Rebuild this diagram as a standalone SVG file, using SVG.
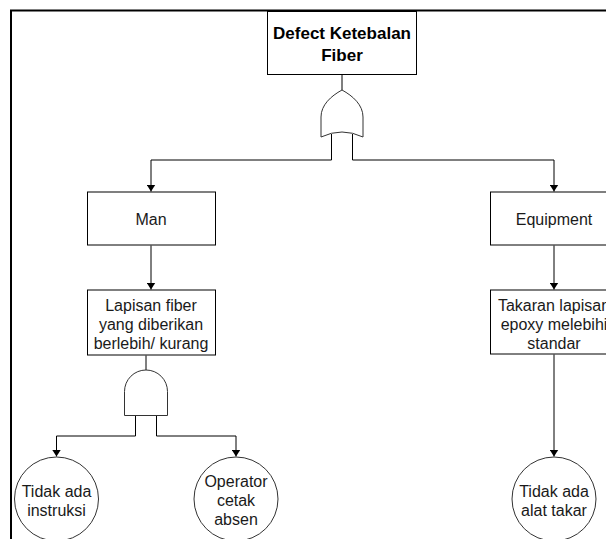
<svg xmlns="http://www.w3.org/2000/svg" width="606" height="539" viewBox="0 0 606 539">
  <style>
    .box { fill: #ffffff; stroke: #000000; stroke-width: 1; }
    .gate { fill: #ffffff; stroke: #333333; stroke-width: 1; }
    .event { fill: #ffffff; stroke: #333333; stroke-width: 1; }
    .link { fill: none; stroke: #000000; stroke-width: 1; }
    .lbl { font-family: "Liberation Sans", Arial, sans-serif; font-size: 16px; fill: #1a1a1a; text-anchor: middle; }
    .title { font-family: "Liberation Sans", Arial, sans-serif; font-size: 17px; font-weight: bold; fill: #000000; text-anchor: middle; }
  </style>
  <defs>
    <marker id="arrow" viewBox="0 0 7 9" refX="7" refY="4.5" markerWidth="7" markerHeight="9" markerUnits="userSpaceOnUse" orient="auto">
      <path d="M0,0 L7,4.5 L0,9 Z" fill="#000000"/>
    </marker>
  </defs>

  <rect width="606" height="539" fill="#ffffff"/>
  <!-- page frame -->
  <path d="M11,539 V10.5 H606" fill="none" stroke="#000000" stroke-width="2"/>

  <!-- connectors -->
  <g id="connectors">
    <path class="link" d="M342,74.5 V90"/>
    <path class="link" d="M331.5,134 V160 H151 V191.5" marker-end="url(#arrow)"/>
    <path class="link" d="M352.5,134 V160 H554 V191.5" marker-end="url(#arrow)"/>
    <path class="link" d="M151,245.5 V289.5" marker-end="url(#arrow)"/>
    <path class="link" d="M554,245.5 V289.5" marker-end="url(#arrow)"/>
    <path class="link" d="M146,355.5 V370"/>
    <path class="link" d="M135.5,415.5 V436 H56.5 V456.5" marker-end="url(#arrow)"/>
    <path class="link" d="M156.5,415.5 V436 H236 V456.5" marker-end="url(#arrow)"/>
    <path class="link" d="M554,354.5 V456.5" marker-end="url(#arrow)"/>
  </g>

  <!-- top event -->
  <g id="top-event">
    <rect class="box" x="267.5" y="11.5" width="149" height="63"/>
    <text class="title" x="342" y="39">Defect Ketebalan</text>
    <text class="title" x="342" y="61">Fiber</text>
  </g>

  <!-- OR gate -->
  <g id="or-gate">
    <path class="gate" d="M342,90 C331,96 321,105 321,117 V137 Q342,127 363,137 V117 C363,105 353,96 342,90 Z"/>
  </g>

  <g id="man">
    <rect class="box" x="87.5" y="192" width="128" height="53"/>
    <text class="lbl" x="151" y="224.5">Man</text>
  </g>

  <g id="equipment">
    <rect class="box" x="490.5" y="192" width="128" height="53"/>
    <text class="lbl" x="554" y="224.5">Equipment</text>
  </g>

  <g id="lapisan">
    <rect class="box" x="87.5" y="290" width="128" height="65"/>
    <text class="lbl" x="151" y="311">Lapisan fiber</text>
    <text class="lbl" x="151" y="330">yang diberikan</text>
    <text class="lbl" x="151" y="349">berlebih/ kurang</text>
  </g>

  <g id="takaran">
    <rect class="box" x="490.5" y="290" width="128" height="64"/>
    <text class="lbl" x="554" y="311">Takaran lapisan</text>
    <text class="lbl" x="554" y="330">epoxy melebihi</text>
    <text class="lbl" x="554" y="349">standar</text>
  </g>

  <!-- AND gate -->
  <g id="and-gate">
    <path class="gate" d="M124.5,415.5 V391.5 A21.5,21.5 0 0 1 167.5,391.5 V415.5 Z"/>
  </g>

  <g id="tidak-ada-instruksi">
    <circle class="event" cx="56.5" cy="499" r="42"/>
    <text class="lbl" x="56.5" y="497">Tidak ada</text>
    <text class="lbl" x="56.5" y="516">instruksi</text>
  </g>

  <g id="operator-cetak-absen">
    <circle class="event" cx="236" cy="499" r="42"/>
    <text class="lbl" x="236" y="487">Operator</text>
    <text class="lbl" x="236" y="506">cetak</text>
    <text class="lbl" x="236" y="525">absen</text>
  </g>

  <g id="tidak-ada-alat-takar">
    <circle class="event" cx="554" cy="499" r="42"/>
    <text class="lbl" x="554" y="497">Tidak ada</text>
    <text class="lbl" x="554" y="516">alat takar</text>
  </g>
</svg>
